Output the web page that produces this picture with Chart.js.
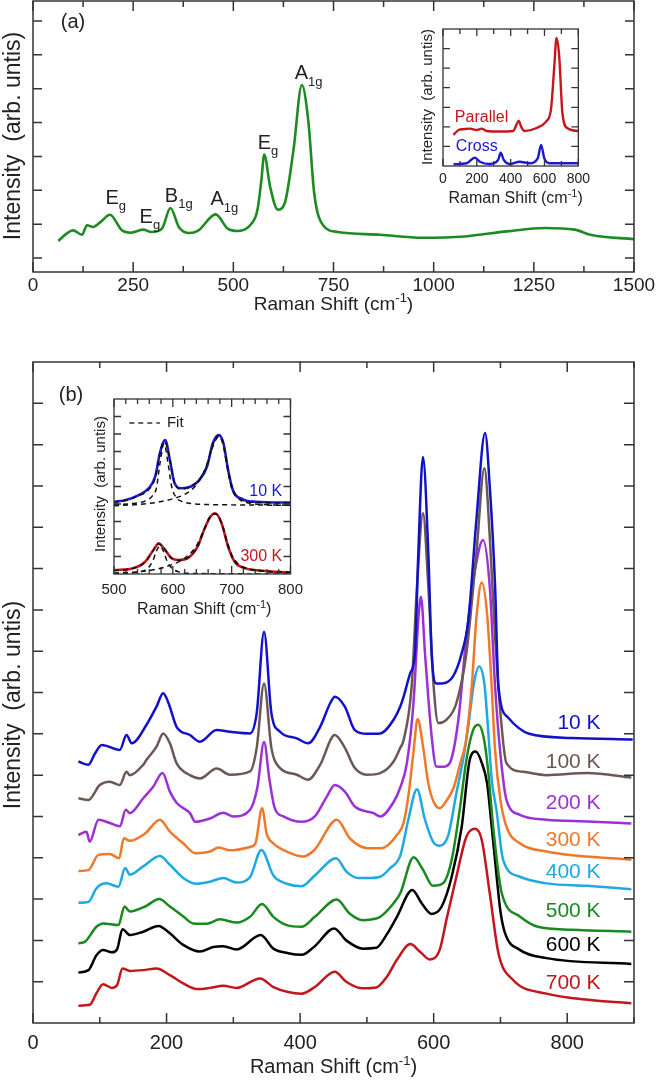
<!DOCTYPE html>
<html>
<head>
<meta charset="utf-8">
<script src="https://cdn.jsdelivr.net/npm/chart.js@4.4.1/dist/chart.umd.min.js"></script>
<style>
html, body { margin: 0; padding: 0; background: #fff; }
body { width: 663px; height: 1084px; position: relative; overflow: hidden; }
canvas { position: absolute; }
</style>
</head>
<body>
<canvas id="panelA" width="663" height="315" style="left:0px;top:0px"></canvas>
<canvas id="insetA" width="185" height="190" style="left:410px;top:22px"></canvas>
<canvas id="panelB" width="663" height="764" style="left:0px;top:320px"></canvas>
<canvas id="insetB" width="222" height="228" style="left:88px;top:392px"></canvas>
<script>
// ---- panel (a): room temperature spectrum ----
const shiftA = [63,100,122,135,150,169,192,222,243,275,296,322,343,364,391,412,456,486,512,544,560,570,577,592,611,628,650,671,687,702,724,761,866,972,1077,1183,1278,1352,1394,1500];
const intensityA = [0.51,0.82,0.69,0.97,0.92,1.07,1.28,0.82,0.75,0.84,0.77,0.87,1.48,0.92,0.74,0.81,1.29,0.87,0.80,1.00,1.41,2.30,3.06,2.10,1.43,1.61,3.18,5.11,4.06,1.90,0.97,0.77,0.69,0.60,0.64,0.79,0.89,0.84,0.68,0.56];
const ticksA = [0,250,500,750,1000,1250,1500];
const minorA = [0,125,250,375,500,625,750,875,1000,1125,1250,1375,1500];
const peakNames = [['E','g'],['E','g'],['B','1g'],['A','1g'],['E','g'],['A','1g']];

// inset of (a): polarisation
const parallelX = [62,92,121,160,199,228,258,336,414,448,462,482,550,609,638,658,671,687,706,736,800];
const parallelY = [1.59,1.84,1.88,1.91,1.84,1.91,1.79,1.76,1.79,2.30,2.01,1.79,1.93,2.27,2.87,5.09,6.54,5.60,2.70,1.93,1.79];
const crossX = [62,140,189,218,277,326,341,359,394,453,511,560,580,599,628,800];
const crossY = [0.09,0.14,0.43,0.22,0.10,0.31,0.68,0.31,0.10,0.22,0.14,0.39,1.08,0.39,0.14,0.14];
const ticksInsetA = [0,200,400,600,800];
const minorInsetA = [0,100,200,300,400,500,600,700,800];

// ---- panel (b): temperature series ----
const temps = ['10 K','100 K','200 K','300 K','400 K','500 K','600 K','700 K'];
const x10 = [68,83,93,103,130,140,148,170,185,195,203,215,235,250,275,295,325,335,346,357,370,395,412,430,445,452,467,482,500,520,540,550,555,565,572,577,584,592,597,604,612,629,642,652,664,677,684,692,697,711,743,806,898];
const y10 = [6.33,6.25,6.53,6.73,6.61,6.97,6.77,7.22,7.66,7.98,7.74,7.17,6.97,6.81,7.09,7.05,7.01,7.50,9.47,7.50,7.05,6.89,6.77,7.17,7.74,7.90,7.66,7.09,7.00,7.01,7.34,7.66,7.90,8.47,8.95,11.37,13.70,11.37,8.95,8.22,8.22,8.39,8.95,9.76,12.18,14.28,12.99,10.56,8.14,7.40,7.00,6.90,6.86];
const x100 = [68,83,100,115,130,140,145,165,170,185,195,205,215,235,250,275,295,325,335,346,357,370,395,412,430,452,467,482,500,520,540,550,555,567,575,584,592,600,607,619,634,649,664,676,684,692,700,709,734,769,830,896];
const y100 = [5.44,5.40,5.76,5.84,5.76,6.08,6.00,6.25,6.37,6.69,7.01,6.77,6.29,6.00,5.92,6.16,6.01,6.09,6.66,8.22,6.66,6.17,6.01,5.89,6.25,6.97,6.66,6.17,6.01,6.05,6.33,6.66,6.85,8.14,10.56,12.34,10.56,8.14,7.26,7.34,7.74,8.95,11.37,13.43,11.78,9.35,7.50,6.29,6.08,6.00,6.05,5.94];
const x200 = [68,80,85,98,115,130,139,145,165,180,194,205,215,235,243,265,285,300,325,336,346,354,362,375,402,422,440,452,467,482,510,520,540,550,560,570,577,581,587,597,604,614,624,637,649,662,674,684,692,700,709,729,769,830,896];
const y200 = [4.55,4.63,4.39,4.92,4.84,4.76,5.16,5.08,5.44,5.72,6.05,5.60,5.33,5.08,4.87,4.95,5.09,5.00,5.16,5.70,6.80,5.90,5.20,5.00,4.87,5.00,5.48,5.76,5.60,5.24,5.08,5.00,5.35,5.70,6.30,7.80,9.76,10.32,8.95,6.93,6.21,6.20,6.29,7.34,9.35,10.97,11.69,10.56,8.14,6.50,5.40,5.04,4.92,4.88,4.83];
const x300 = [68,83,98,115,129,136,145,168,190,205,225,243,265,278,295,325,333,343,350,360,380,405,422,455,475,502,522,545,555,563,570,576,584,592,600,609,620,630,640,648,657,664,672,680,686,692,700,709,729,769,896];
const y300 = [3.68,3.70,4.07,4.09,3.99,4.47,4.41,4.59,4.92,4.63,4.35,4.11,4.15,4.25,4.18,4.26,4.34,5.20,4.58,4.35,4.15,4.03,4.20,4.92,4.46,4.23,4.23,4.55,4.85,5.60,6.60,7.36,6.70,5.80,5.35,5.20,5.40,5.70,6.30,6.80,8.14,9.80,10.66,9.90,8.40,6.60,5.40,4.75,4.35,4.15,3.95];
const x400 = [68,83,95,110,128,138,145,165,190,205,225,245,265,285,305,325,342,360,380,402,422,454,469,487,505,520,535,550,562,575,587,599,609,622,634,644,652,660,668,676,682,687,694,704,729,769,829,896];
const y400 = [2.91,2.93,3.26,3.38,3.30,3.75,3.59,3.79,4.04,3.83,3.51,3.37,3.42,3.51,3.40,3.53,4.19,3.57,3.37,3.31,3.57,3.99,3.67,3.51,3.51,3.54,3.75,4.05,4.92,5.66,4.92,4.39,4.29,4.55,5.56,6.37,7.20,8.20,8.63,8.20,7.00,5.88,5.16,3.95,3.54,3.38,3.32,3.24];
const x500 = [68,78,95,105,128,137,145,168,189,205,225,240,260,280,305,325,343,360,380,402,422,455,474,494,514,520,540,550,570,584,599,614,627,639,649,659,667,675,681,690,702,729,756,806,896];
const y500 = [1.93,1.97,2.33,2.41,2.37,2.82,2.70,2.82,3.00,2.82,2.58,2.41,2.40,2.51,2.43,2.57,2.88,2.57,2.37,2.33,2.57,2.99,2.65,2.49,2.53,2.57,2.90,3.14,4.01,3.71,3.32,3.38,3.95,5.16,6.37,7.09,7.22,6.90,6.20,4.60,3.14,2.58,2.33,2.26,2.21];
const x600 = [68,83,95,105,118,126,134,145,165,188,205,225,250,270,285,305,341,360,382,402,422,451,469,494,514,530,545,568,582,597,612,627,642,654,663,672,680,686,694,700,707,729,769,896];
const y600 = [1.22,1.28,1.64,1.77,1.71,1.79,2.27,2.13,2.21,2.35,2.17,1.89,1.73,1.84,1.86,1.78,2.13,1.80,1.69,1.65,1.86,2.29,2.00,1.80,1.82,2.15,2.57,3.22,2.90,2.64,2.82,3.54,4.75,6.37,6.57,6.30,5.80,4.90,3.60,2.70,2.17,1.77,1.57,1.43];
const x700 = [68,85,95,105,118,126,134,145,165,185,205,225,245,265,285,305,340,360,382,402,422,452,469,494,514,530,545,565,580,594,609,619,634,649,662,672,684,697,719,769,838,896];
const y700 = [0.42,0.44,0.72,0.94,0.85,0.92,1.32,1.26,1.28,1.32,1.16,0.96,0.82,0.85,0.90,0.85,1.08,0.87,0.75,0.71,0.87,1.24,1.00,0.84,0.86,1.12,1.53,1.91,1.72,1.54,1.77,2.49,3.54,4.51,4.70,4.43,3.14,1.69,1.04,0.71,0.55,0.48];
const ticksB = [0,200,400,600,800];
const minorB = [0,100,200,300,400,500,600,700,800,900];

// inset of (b): fits of the two high-frequency modes
const insetX10 = [501,520,542,559,570,578,587,595,603,614,631,645,658,668,678,686,694,702,719,741,800];
const insetY10 = [4.13,4.23,4.51,4.90,5.56,6.90,7.66,6.51,5.18,4.90,5.00,5.37,6.13,7.47,7.94,7.47,5.94,4.80,4.27,4.13,4.08];
const insetX300 = [501,531,553,567,576,585,598,609,625,642,653,664,672,683,694,705,724,752,800];
const insetY300 = [0.23,0.32,0.70,1.37,1.75,1.46,0.90,0.80,0.90,1.56,2.51,3.28,3.47,2.89,1.56,0.70,0.32,0.19,0.08];
const fitX10 = [500,520,540,560,570,578,585,590,595,603,612,622,632,645,658,668,678,686,694,702,712,725,745,770,800];
const fitY10 = [4.10,4.20,4.45,4.85,5.50,6.90,7.55,7.30,6.50,5.20,4.85,4.90,5.05,5.40,6.20,7.40,7.90,7.45,5.95,4.80,4.35,4.15,4.08,4.06,4.05];
const peakX10a = [500,530,555,565,572,578,585,592,598,605,615,630,660,700,800];
const peakY10a = [3.98,4.02,4.20,4.45,4.90,6.30,7.45,6.30,5.00,4.40,4.15,4.03,3.97,3.95,3.93];
const peakX10b = [500,540,570,600,620,640,655,665,672,678,685,692,700,712,730,760,800];
const peakY10b = [3.90,3.97,4.08,4.30,4.55,5.10,6.00,7.00,7.60,7.85,7.45,6.20,4.90,4.30,4.05,3.96,3.93];
const fitX300 = [500,530,553,567,576,585,598,609,625,642,653,664,672,683,694,705,724,752,800];
const fitY300 = [0.20,0.30,0.68,1.35,1.72,1.45,0.90,0.78,0.90,1.55,2.50,3.27,3.45,2.90,1.55,0.72,0.32,0.18,0.08];
const peakX300a = [500,540,558,566,572,578,584,590,598,610,630,660,700,800];
const peakY300a = [0.02,0.10,0.35,0.75,1.30,1.60,1.30,0.75,0.35,0.12,0.04,0.02,0.01,0.00];
const peakX300b = [500,560,600,620,640,652,662,672,682,692,700,712,730,760,800];
const peakY300b = [0.05,0.20,0.55,0.90,1.60,2.45,3.20,3.45,3.00,1.90,1.10,0.55,0.30,0.15,0.10];
const ticksInsetB = [500,600,700,800];
const minorInsetB = [500,520,540,560,580,600,620,640,660,680,700,720,740,760,780,800];

// ---- look ----
const FONT = "'Liberation Sans', Arial, Helvetica, sans-serif";
const INK = '#222';
const tempColors = ['#1111c8','#6b5853','#9b30d6','#f0782a','#1ea9e3','#1a8a1f','#000000','#c2161c'];
Chart.defaults.font.family = FONT;
Chart.defaults.color = INK;

function pts(xs, ys) {
    return xs.map((x, i) => ({ x: x, y: ys[i] }));
}

function series(xs, ys, color, width, more) {
    return Object.assign({
        data: pts(xs, ys),
        borderColor: color,
        borderWidth: width,
        pointRadius: 0,
        fill: false,
        cubicInterpolationMode: 'monotone'
    }, more || {});
}

function axes(xMin, xMax, xLabels, yMin, yMax, size, pad, xH, yW) {
    return {
        x: {
            type: 'linear', min: xMin, max: xMax,
            grid: { display: false, drawTicks: false },
            border: { display: false },
            afterBuildTicks: ax => { ax.ticks = xLabels.map(v => ({ value: v })); },
            afterFit: ax => { ax.height = xH; },
            ticks: { font: { size: size }, color: INK, padding: pad, maxRotation: 0, autoSkip: false, callback: v => String(v) }
        },
        y: {
            type: 'linear', min: yMin, max: yMax,
            grid: { display: false, drawTicks: false },
            border: { display: false },
            afterFit: ax => { ax.width = yW; },
            ticks: { display: false }
        }
    };
}

// text with sub/superscript pieces: [[text, 'n'|'sub'|'sup'], ...]
function richText(ctx, parts, x, y, size, align) {
    const small = Math.round(size * 0.66);
    const fontOf = p => (p[1] === 'n' ? size : small) + 'px ' + FONT;
    let total = 0;
    parts.forEach(p => { ctx.font = fontOf(p); total += ctx.measureText(p[0]).width; });
    let cx = align === 'center' ? x - total / 2 : (align === 'right' ? x - total : x);
    ctx.textAlign = 'left';
    ctx.textBaseline = 'alphabetic';
    parts.forEach(p => {
        ctx.font = fontOf(p);
        const dy = p[1] === 'sup' ? -size * 0.4 : (p[1] === 'sub' ? size * 0.32 : 0);
        ctx.fillText(p[0], cx, y + dy);
        cx += ctx.measureText(p[0]).width;
    });
}

function yTitle(ctx, text, x, y, size) {
    ctx.save();
    ctx.translate(x, y);
    ctx.rotate(-Math.PI / 2);
    ctx.font = size + 'px ' + FONT;
    ctx.textAlign = 'center';
    ctx.textBaseline = 'middle';
    ctx.fillText(text, 0, 0);
    ctx.restore();
}

// frame, inward ticks on four sides, titles and any extra text
function decor(cfg) {
    return {
        id: 'decor',
        beforeDraw(chart) {
            const a = chart.chartArea, ctx = chart.ctx;
            ctx.save();
            ctx.fillStyle = '#fff';
            ctx.fillRect(a.left, a.top, a.right - a.left, a.bottom - a.top);
            ctx.restore();
        },
        afterDraw(chart) {
            const ctx = chart.ctx, a = chart.chartArea;
            const sx = chart.scales.x, sy = chart.scales.y;
            ctx.save();
            ctx.strokeStyle = '#333';
            ctx.lineWidth = cfg.lw;
            ctx.beginPath();
            cfg.xTicks.forEach(v => {
                const p = sx.getPixelForValue(v);
                const len = (v % cfg.xMajor === 0) ? cfg.major : cfg.minor;
                ctx.moveTo(p, a.bottom); ctx.lineTo(p, a.bottom - len);
                ctx.moveTo(p, a.top); ctx.lineTo(p, a.top + len);
            });
            cfg.yTicks.forEach(v => {
                const p = sy.getPixelForValue(v);
                ctx.moveTo(a.left, p); ctx.lineTo(a.left + cfg.yLen, p);
                ctx.moveTo(a.right, p); ctx.lineTo(a.right - cfg.yLen, p);
            });
            ctx.stroke();
            ctx.strokeRect(a.left, a.top, a.right - a.left, a.bottom - a.top);

            ctx.fillStyle = INK;
            richText(ctx, [['Raman Shift (cm', 'n'], ['-1', 'sup'], [')', 'n']],
                (a.left + a.right) / 2 + cfg.titleDx, cfg.titleY, cfg.titleSize, 'center');
            yTitle(ctx, 'Intensity  (arb. untis)', cfg.yTitleX, cfg.yTitleY, cfg.yTitleSize);
            if (cfg.extra) cfg.extra(ctx, sx, sy, a);
            ctx.restore();
        }
    };
}

function baseOptions(pad, sc) {
    return {
        responsive: false, maintainAspectRatio: false, animation: false, devicePixelRatio: 1, events: [],
        layout: { padding: pad },
        plugins: { legend: { display: false }, tooltip: { enabled: false } },
        scales: sc
    };
}

// ---- panel (a) ----
const peakSpots = [[181,1.61],[266,1.04],[329,1.66],[443,1.56],[561,3.23],[653,5.28]];
new Chart(document.getElementById('panelA'), {
    type: 'line',
    data: { datasets: [series(shiftA, intensityA, '#1d8a22', 2.6)] },
    options: baseOptions({ top: 1, right: 29, left: 0, bottom: 0 },
        axes(0, 1500, ticksA, -0.41, 7.59, 19, 2, 43, 33)),
    plugins: [decor({
        lw: 1.5, xTicks: minorA, xMajor: 250, major: 10, minor: 6, yTicks: [0,1,2,3,4,5,6,7], yLen: 9,
        titleDx: 0, titleY: 310, titleSize: 19, yTitleX: 14, yTitleY: 136, yTitleSize: 23,
        extra: (ctx, sx, sy) => {
            ctx.fillStyle = INK;
            peakNames.forEach((n, i) => {
                richText(ctx, [[n[0], 'n'], [n[1], 'sub']],
                    sx.getPixelForValue(peakSpots[i][0]), sy.getPixelForValue(peakSpots[i][1]), 20, 'left');
            });
            ctx.font = '20px ' + FONT;
            ctx.textAlign = 'center';
            ctx.textBaseline = 'middle';
            ctx.fillText('(a)', 73, 22);
        }
    })]
});

// ---- inset of (a) ----
new Chart(document.getElementById('insetA'), {
    type: 'line',
    data: { datasets: [
        series(parallelX, parallelY, '#c4161c', 2.4),
        series(crossX, crossY, '#1a1ad0', 2.4)
    ] },
    options: baseOptions({ top: 7, right: 15, left: 0, bottom: 0 },
        axes(0, 800, ticksInsetA, 0, 7, 14, 5, 46, 33)),
    plugins: [decor({
        lw: 1.3, xTicks: minorInsetA, xMajor: 200, major: 7, minor: 5, yTicks: [1,2,3,4,5,6], yLen: 7,
        titleDx: 5, titleY: 181, titleSize: 16, yTitleX: 18, yTitleY: 75, yTitleSize: 15,
        extra: (ctx, sx, sy) => {
            ctx.font = '16px ' + FONT;
            ctx.textAlign = 'left';
            ctx.textBaseline = 'middle';
            ctx.fillStyle = '#c4161c';
            ctx.fillText('Parallel', sx.getPixelForValue(70), sy.getPixelForValue(2.46));
            ctx.fillStyle = '#1a1ad0';
            ctx.fillText('Cross', sx.getPixelForValue(76), sy.getPixelForValue(0.97));
        }
    })]
});

// ---- panel (b) ----
const xsB = [x10, x100, x200, x300, x400, x500, x600, x700];
const ysB = [y10, y100, y200, y300, y400, y500, y600, y700];
const tempLabelY = [7.26, 6.32, 5.33, 4.43, 3.66, 2.71, 1.89, 0.97];
new Chart(document.getElementById('panelB'), {
    type: 'line',
    data: { datasets: temps.map((t, i) => series(xsB[i], ysB[i], tempColors[i], 2.5, { label: t })) },
    options: baseOptions({ top: 42, right: 29, left: 0, bottom: 0 },
        axes(0, 900, ticksB, 0, 16, 20, 8, 61, 33)),
    plugins: [decor({
        lw: 1.5, xTicks: minorB, xMajor: 200, major: 10, minor: 6,
        yTicks: [1,2,3,4,5,6,7,8,9,10,11,12,13,14,15], yLen: 10,
        titleDx: 0, titleY: 753, titleSize: 20, yTitleX: 14, yTitleY: 385, yTitleSize: 23,
        extra: (ctx, sx, sy) => {
            ctx.font = '21px ' + FONT;
            ctx.textAlign = 'right';
            ctx.textBaseline = 'middle';
            temps.forEach((t, i) => {
                ctx.fillStyle = tempColors[i];
                ctx.fillText(t, sx.getPixelForValue(850), sy.getPixelForValue(tempLabelY[i]));
            });
            ctx.fillStyle = INK;
            ctx.font = '20px ' + FONT;
            ctx.textAlign = 'center';
            ctx.fillText('(b)', 71, 75);
        }
    })]
});

// ---- inset of (b) ----
const dash = { borderDash: [5, 4], order: 1 };
new Chart(document.getElementById('insetB'), {
    type: 'line',
    data: { datasets: [
        series(fitX10, fitY10, '#111', 1.5, dash),
        series(peakX10a, peakY10a, '#111', 1.5, dash),
        series(peakX10b, peakY10b, '#111', 1.5, dash),
        series(fitX300, fitY300, '#111', 1.5, dash),
        series(peakX300a, peakY300a, '#111', 1.5, dash),
        series(peakX300b, peakY300b, '#111', 1.5, dash),
        series(insetX10, insetY10, '#1a1ad0', 2.6, { order: 2 }),
        series(insetX300, insetY300, '#c4161c', 2.6, { order: 2 })
    ] },
    options: baseOptions({ top: 7, right: 14, left: 0, bottom: 0 },
        axes(500, 800, ticksInsetB, 0, 10, 15, 7, 46, 26)),
    plugins: [decor({
        lw: 1.3, xTicks: minorInsetB, xMajor: 100, major: 8, minor: 5, yTicks: [1,2,3,4,5,6,7,8,9], yLen: 7,
        titleDx: 2, titleY: 222, titleSize: 16, yTitleX: 13, yTitleY: 92, yTitleSize: 15,
        extra: (ctx, sx, sy) => {
            ctx.font = '16px ' + FONT;
            ctx.textAlign = 'right';
            ctx.textBaseline = 'middle';
            ctx.fillStyle = '#1a1ad0';
            ctx.fillText('10 K', sx.getPixelForValue(786), sy.getPixelForValue(4.70));
            ctx.fillStyle = '#c4161c';
            ctx.fillText('300 K', sx.getPixelForValue(786), sy.getPixelForValue(0.99));
            // legend for the fit
            ctx.strokeStyle = '#333';
            ctx.lineWidth = 1.3;
            ctx.setLineDash([5, 4]);
            ctx.beginPath();
            ctx.moveTo(sx.getPixelForValue(526), sy.getPixelForValue(8.63));
            ctx.lineTo(sx.getPixelForValue(578), sy.getPixelForValue(8.63));
            ctx.stroke();
            ctx.setLineDash([]);
            ctx.fillStyle = INK;
            ctx.textAlign = 'left';
            ctx.font = '15px ' + FONT;
            ctx.fillText('Fit', sx.getPixelForValue(590), sy.getPixelForValue(8.63));
        }
    })]
});
</script>
</body>
</html>
